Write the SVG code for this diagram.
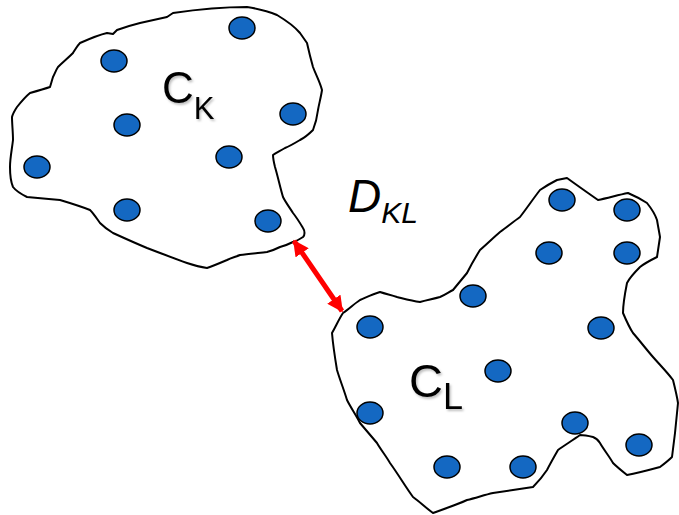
<svg xmlns="http://www.w3.org/2000/svg" width="679" height="515" viewBox="0 0 679 515">
<style>
.outline{fill:#fff;stroke:#000;stroke-width:2;stroke-linejoin:round}
.dot{fill:#1468c2;stroke:#000;stroke-width:1.5}
.lbl{font-family:"Liberation Sans",Arial,sans-serif;fill:#000}
</style>
<defs>
<filter id="sh" x="-20%" y="-20%" width="150%" height="150%">
<feDropShadow dx="1.5" dy="2" stdDeviation="1" flood-color="#000" flood-opacity="0.25"/>
</filter>
<marker id="ah" viewBox="0 0 10 10" refX="9" refY="5" markerWidth="3.2" markerHeight="3.2" orient="auto-start-reverse">
<path d="M0,0 L10,5 L0,10 z" fill="#f00"/>
</marker>
</defs>
<g id="clusterK">
<path class="outline" d="M173,13 C200,9 225,7 247,7 C260,9 270,12 277,15 C287,21 295,27 300,33 L307,43 C309,52 311,60 313,67 C316,75 320,82 322,90 C321,97 319,104 318,110 C317,118 315,125 313,130 C308,135 304,138 300,140 C295,143 290,146 285,148 C280,151 276,153 273,155 C273,159 274,163 275,167 C278,177 280,187 283,197 C286,203 290,208 293,213 C297,218 300,223 303,228 C305,231 305,235 303,237 C300,239 297,241 293,242 C289,244 284,246 280,247 C276,249 271,251 267,252 C258,253 248,254 240,255 C235,257 231,258 227,260 C220,263 213,266 207,268 C200,267 193,265 187,263 C173,258 160,253 147,248 C135,243 124,238 113,233 C108,230 104,227 100,223 C97,219 94,214 90,210 C80,206 70,203 60,200 C49,199 37,198 27,197 C21,194 16,191 13,187 C10,180 10,173 10,167 C10,158 12,149 13,140 C13,132 12,124 12,117 C13,113 15,110 17,107 C21,102 25,97 30,93 C37,91 44,89 50,87 C51,84 52,80 53,77 C55,73 56,70 58,67 C63,62 68,58 73,53 C75,50 77,46 80,43 C89,39 98,35 107,33 L113,34 L117,30 C125,27 132,25 140,23 C149,21 158,19 167,17 Z"/>
<ellipse class="dot" cx="242" cy="28" rx="13" ry="11"/>
<ellipse class="dot" cx="114" cy="61" rx="13" ry="11"/>
<ellipse class="dot" cx="127" cy="125" rx="13" ry="11"/>
<ellipse class="dot" cx="37" cy="167" rx="13" ry="11"/>
<ellipse class="dot" cx="127" cy="210" rx="13" ry="11"/>
<ellipse class="dot" cx="229" cy="157" rx="13" ry="11"/>
<ellipse class="dot" cx="293" cy="114" rx="13" ry="11"/>
<ellipse class="dot" cx="268" cy="221" rx="13" ry="11"/>
<text class="lbl" filter="url(#sh)" x="162" y="103" font-size="44">C<tspan font-size="31" dy="16">K</tspan></text>
</g>
<g id="clusterL">
<path class="outline" d="M567,178 C578,186 588,193 598,200 C608,198 618,195 628,193 C635,196 641,199 647,203 C651,208 655,214 657,220 C658,226 659,231 660,237 C659,244 658,250 657,257 C651,260 645,263 640,267 C635,272 630,277 627,283 C625,293 623,303 623,313 C626,320 629,327 633,333 C640,341 646,349 653,357 C660,365 667,372 673,380 C675,388 677,396 678,403 C677,413 676,423 675,433 C674,441 673,449 672,457 C668,461 664,464 660,467 C649,470 638,473 627,475 C622,471 617,467 613,463 C609,456 604,450 600,443 C598,440 596,438 593,437 C589,436 584,435 580,435 C573,440 565,445 558,450 C554,457 550,464 547,470 C543,476 538,482 533,487 C520,489 506,491 493,493 C484,495 476,498 467,500 C456,505 444,509 433,513 C426,508 420,502 413,497 C405,486 398,474 390,463 C386,456 381,450 377,443 C371,436 366,430 360,423 C356,415 351,408 347,400 C344,390 340,380 337,370 C335,358 333,345 332,333 C336,326 339,319 343,313 C349,309 354,304 360,300 C367,297 373,294 380,292 C386,294 391,295 397,297 C405,299 412,301 420,302 C427,300 433,299 440,297 C445,295 449,292 453,290 C458,284 462,279 467,273 C471,265 475,258 480,250 C487,244 493,238 500,232 C507,227 513,222 520,217 C527,208 533,199 540,190 C546,186 551,183 557,180 Z"/>
<ellipse class="dot" cx="562" cy="200" rx="13" ry="11"/>
<ellipse class="dot" cx="627" cy="210" rx="13" ry="11"/>
<ellipse class="dot" cx="549" cy="253" rx="13" ry="11"/>
<ellipse class="dot" cx="627" cy="253" rx="13" ry="11"/>
<ellipse class="dot" cx="473" cy="296" rx="13" ry="11"/>
<ellipse class="dot" cx="370" cy="327" rx="13" ry="11"/>
<ellipse class="dot" cx="601" cy="328" rx="13" ry="11"/>
<ellipse class="dot" cx="498" cy="371" rx="13" ry="11"/>
<ellipse class="dot" cx="370" cy="413" rx="13" ry="11"/>
<ellipse class="dot" cx="575" cy="423" rx="13" ry="11"/>
<ellipse class="dot" cx="639" cy="445" rx="13" ry="11"/>
<ellipse class="dot" cx="447" cy="467" rx="13" ry="11"/>
<ellipse class="dot" cx="523" cy="467" rx="13" ry="11"/>
<text class="lbl" filter="url(#sh)" x="409" y="397" font-size="47">C<tspan font-size="36" dy="12">L</tspan></text>
</g>
<g id="connectors">
<line x1="294" y1="241" x2="342" y2="311" stroke="#f00" stroke-width="5" marker-start="url(#ah)" marker-end="url(#ah)"/>
</g>
<g id="distanceLabel">
<text class="lbl" x="348" y="212" font-size="46" font-style="italic">D<tspan font-size="30" dy="11">KL</tspan></text>
</g>
</svg>
